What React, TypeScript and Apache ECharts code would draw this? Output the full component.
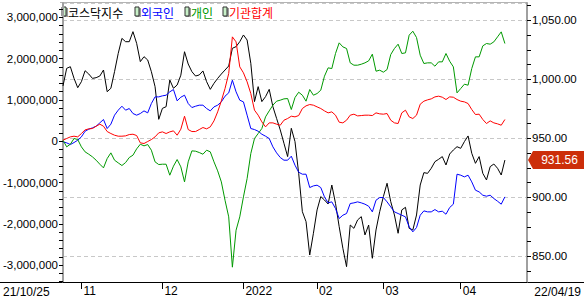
import React, { useEffect, useRef } from 'react';
import * as echarts from 'echarts';

// ---------- data ----------
const HOLIDAYS = ['2021-12-31', '2022-01-31', '2022-02-01', '2022-02-02', '2022-03-01', '2022-03-09'];
const START_DATE = '2021-10-25';
const END_DATE = '2022-04-19';

function tradingDays(start: string, end: string): string[] {
  const out: string[] = [];
  const d = new Date(start + 'T00:00:00Z');
  const e = new Date(end + 'T00:00:00Z');
  while (d <= e) {
    const wd = d.getUTCDay();
    const s = d.toISOString().slice(0, 10);
    if (wd !== 0 && wd !== 6 && HOLIDAYS.indexOf(s) < 0) out.push(s);
    d.setUTCDate(d.getUTCDate() + 1);
  }
  return out;
}

const DATES = tradingDays(START_DATE, END_DATE);
const PAD_CATEGORIES = ['pad1', 'pad2', 'pad3', 'pad4', 'pad5', 'pad6'];
const CATEGORIES = [...DATES, ...PAD_CATEGORIES];

const MONTH_LABELS: Record<string, string> = {
  '2021-11-01': '11',
  '2021-12-01': '12',
  '2022-01-03': '2022',
  '2022-02-03': '02',
  '2022-03-02': '03',
  '2022-04-01': '04',
};
const START_LABEL = '21/10/25';
const END_LABEL = '22/04/19';

const KOSDAQ = [994.4, 1009.3, 1010.7, 1000.8, 992.9, 998.0, 1007.3, 1004.5, 1000.8, 1001.4,
  1002.8, 1007.9, 989.5, 992.4, 1006.5, 1022.0, 1034.7, 1031.9, 1031.9, 1040.4,
  1030.5, 1015.0, 1019.2, 1016.4, 1006.5, 993.8, 966.1, 975.4, 976.8, 999.4,
  992.4, 995.2, 1003.5, 1023.4, 1013.0, 1006.5, 1002.8, 1003.7, 1007.1, 998.0,
  991.5, 996.6, 1000.8, 1004.5, 1007.9, 1011.3, 1026.3, 1027.7, 1031.9, 1037.6,
  1033.3, 1013.6, 981.1, 993.8, 981.1, 985.3, 991.5, 976.8, 966.9, 957.1,
  945.8, 934.5, 958.5, 947.2, 920.3, 887.8, 879.4, 851.1, 869.5, 889.3,
  900.6, 897.7, 894.3, 910.4, 894.9, 875.1, 856.8, 841.2, 876.5, 873.7,
  880.8, 883.6, 868.1, 876.5, 848.3, 872.3, 887.8, 900.6, 911.9, 896.3,
  885.0, 869.5, 889.3, 891.5, 873.7, 872.3, 885.0, 910.4, 920.9, 920.3,
  924.6, 930.2, 932.2, 934.5, 927.4, 936.7, 940.1, 942.9, 941.5, 947.2,
  952.0, 937.3, 928.8, 934.5, 920.3, 914.7, 926.0, 928.2, 924.6, 918.9,
  931.56];

const FOREIGN = [-16000, -40000, -81000, -32000, 24000, 105000, 242000, 291000, 323000, 363000,
  444000, 525000, 307000, 412000, 630000, 751000, 847000, 751000, 791000, 670000,
  630000, 670000, 734000, 686000, 912000, 1073000, 1073000, 1098000, 1114000, 1195000,
  1251000, 977000, 1065000, 1114000, 912000, 815000, 847000, 872000, 872000, 791000,
  734000, 831000, 872000, 952000, 1090000, 1170000, 1477000, 1195000, 993000, 952000,
  630000, 307000, 282000, 242000, 169000, 121000, 65000, -137000, -282000, -395000,
  -460000, -460000, -363000, -581000, -751000, -799000, -799000, -1122000, -1082000, -1065000,
  -1122000, -1348000, -1493000, -1469000, -1630000, -1872000, -1792000, -1751000, -1509000, -1493000,
  -1469000, -1493000, -1525000, -1574000, -1711000, -1429000, -1364000, -1364000, -1469000, -1590000,
  -1711000, -1751000, -1792000, -1832000, -2074000, -2195000, -2090000, -1792000, -1687000, -1711000,
  -1711000, -1655000, -1711000, -1695000, -1768000, -1606000, -1525000, -799000, -823000, -864000,
  -823000, -985000, -1186000, -1227000, -1308000, -1332000, -1308000, -1388000, -1453000, -1525000,
  -1348000];

const INDIVIDUAL = [24000, -137000, -73000, 65000, 40000, -137000, -258000, -315000, -379000, -460000,
  -557000, -646000, -420000, -282000, -460000, -525000, -589000, -517000, -395000, -339000,
  -186000, -73000, -113000, -81000, -218000, -500000, -565000, -557000, -557000, -823000,
  -605000, -444000, -621000, -985000, -500000, -234000, -242000, -274000, -315000, -218000,
  -258000, -500000, -718000, -985000, -1429000, -1832000, -3050000, -2155000, -1832000, -1348000,
  -904000, -299000, 65000, 186000, 307000, 589000, 734000, 872000, 969000, 993000,
  1025000, 1033000, 767000, 1057000, 1186000, 1114000, 969000, 1251000, 1114000, 1154000,
  1235000, 1574000, 1776000, 1759000, 2123000, 2381000, 2284000, 2244000, 1897000, 1840000,
  1840000, 1864000, 1897000, 1945000, 2107000, 1695000, 1719000, 1671000, 1735000, 2098000,
  2244000, 2349000, 2123000, 2139000, 2567000, 2663000, 2510000, 2082000, 1881000, 1897000,
  1897000, 1816000, 1921000, 1921000, 2123000, 1937000, 1800000, 1170000, 1275000, 1380000,
  1356000, 1759000, 2042000, 2042000, 2308000, 2365000, 2349000, 2405000, 2526000, 2647000,
  2365000];

const INSTITUTION = [24000, 65000, 105000, 121000, 105000, 186000, 274000, 299000, 307000, 363000,
  412000, 363000, 234000, 186000, 145000, 121000, 121000, 129000, 161000, 169000,
  137000, -40000, -56000, -8000, 40000, 105000, 202000, 226000, 186000, 226000,
  250000, 145000, 291000, 605000, 282000, 234000, 234000, 282000, 331000, 299000,
  347000, 492000, 710000, 977000, 1275000, 1638000, 2526000, 2405000, 1800000, 1655000,
  1437000, 1154000, 751000, 630000, 468000, 347000, 444000, 444000, 412000, 387000,
  508000, 549000, 605000, 589000, 621000, 791000, 856000, 888000, 872000, 831000,
  791000, 734000, 686000, 710000, 630000, 460000, 444000, 508000, 630000, 654000,
  613000, 621000, 630000, 630000, 621000, 686000, 662000, 654000, 670000, 508000,
  444000, 428000, 686000, 751000, 589000, 549000, 630000, 896000, 969000, 1001000,
  1025000, 1073000, 1090000, 1065000, 1009000, 1073000, 1065000, 1009000, 969000, 952000,
  912000, 767000, 646000, 654000, 525000, 428000, 492000, 444000, 420000, 387000,
  525000];

const LEFT_LABELS = [-3000000, -2000000, -1000000, 0, 1000000, 2000000, 3000000];
const LEFT_TICKS = [-3400000, -3200000, -3000000, -2800000, -2600000, -2400000, -2200000, -2000000,
  -1800000, -1600000, -1400000, -1200000, -1000000, -800000, -600000, -400000, -200000, 0,
  200000, 400000, 600000, 800000, 1000000, 1200000, 1400000, 1600000, 1800000, 2000000,
  2200000, 2400000, 2600000, 2800000, 3000000, 3200000];
const RIGHT_LABELS = [850, 900, 950, 1000, 1050];
const RIGHT_TICKS = [837.5, 850, 862.5, 875, 887.5, 900, 912.5, 925, 937.5, 950, 962.5, 975,
  987.5, 1000, 1012.5, 1025, 1037.5, 1050, 1062.5];

const SERIES_DEF = [
  { name: '코스닥지수', data: KOSDAQ, color: '#000000', axis: 1 },
  { name: '외국인', data: FOREIGN, color: '#0000ff', axis: 0 },
  { name: '개인', data: INDIVIDUAL, color: '#009900', axis: 0 },
  { name: '기관합계', data: INSTITUTION, color: '#ff0000', axis: 0 },
];

// ---------- layout / style ----------
const W = 584;
const H = 299;
const GRID = { left: 60, right: 57, top: 3, bottom: 17 };
const NUM_FONT = '"Liberation Sans", Arial, sans-serif';
const KR_FONT = '"Noto Sans CJK KR", sans-serif';
const LEGEND_X = [62, 135, 185, 223];

function fmtInt(v: number) {
  return Math.round(v).toLocaleString('en-US');
}
function fmt2(v: number) {
  return v.toLocaleString('en-US', { minimumFractionDigits: 2, maximumFractionDigits: 2 });
}

export default function App() {
  const ref = useRef<HTMLDivElement>(null);

  useEffect(() => {
    document.body.style.margin = '0';
    if (!ref.current) return;
    const chart = echarts.init(ref.current, undefined, { renderer: 'svg' });

    const isMonth = (_i: number, v: string) => Object.prototype.hasOwnProperty.call(MONTH_LABELS, v);

    chart.setOption({
      animation: false,
      backgroundColor: '#ffffff',
      grid: { ...GRID, containLabel: false },
      xAxis: {
        type: 'category',
        data: CATEGORIES,
        boundaryGap: false,
        axisLine: { onZero: false, lineStyle: { color: '#000', width: 1 } },
        axisTick: { show: true, length: 7, interval: isMonth, lineStyle: { color: '#000' } },
        axisLabel: {
          interval: isMonth,
          formatter: (v: string) => MONTH_LABELS[v] ?? '',
          align: 'left',
          margin: 3,
          padding: [0, 0, 0, 2],
          color: '#000',
          fontSize: 12,
          fontFamily: NUM_FONT,
        },
        splitLine: { show: false },
      },
      yAxis: [
        {
          type: 'value',
          position: 'left',
          min: -3409000,
          max: 3346000,
          axisLine: { show: true, lineStyle: { color: '#a0a0a0', width: 2 } },
          axisTick: { show: true, length: 4, customValues: LEFT_TICKS, lineStyle: { color: '#000' } },
          axisLabel: {
            customValues: LEFT_LABELS,
            formatter: (v: number) => fmtInt(v),
            margin: 5,
            color: '#000',
            fontSize: 11.5,
            fontFamily: NUM_FONT,
          },
          splitLine: { show: false },
        },
        {
          type: 'value',
          position: 'right',
          min: 828.2,
          max: 1064.7,
          axisLine: { show: true, lineStyle: { color: '#a0a0a0', width: 2 } },
          axisTick: { show: true, length: 4, customValues: RIGHT_TICKS, lineStyle: { color: '#000' } },
          axisLabel: {
            customValues: RIGHT_LABELS,
            formatter: (v: number) => fmt2(v),
            margin: 5,
            color: '#000',
            fontSize: 11.5,
            fontFamily: NUM_FONT,
          },
          splitLine: { show: false },
        },
        {
          type: 'value',
          position: 'right',
          min: 828.2,
          max: 1064.7,
          minInterval: 50,
          maxInterval: 50,
          axisLine: { show: false },
          axisTick: { show: false },
          axisLabel: { show: false },
          splitLine: { show: true, lineStyle: { color: '#c8c8c8', width: 1, type: [4, 3] } },
        },
      ],
      series: SERIES_DEF.map((s) => ({
        name: s.name,
        type: 'line',
        yAxisIndex: s.axis,
        data: s.data,
        showSymbol: false,
        symbol: 'none',
        lineStyle: { color: s.color, width: 1 },
        itemStyle: { color: s.color },
        emphasis: { disabled: true },
      })),
    });

    const last = KOSDAQ[KOSDAQ.length - 1];
    const py = chart.convertToPixel({ yAxisIndex: 1 }, last) as number;
    const axisX = W - GRID.right;
    const plotBottom = H - GRID.bottom;

    const legendEls: any[] = [];
    SERIES_DEF.forEach((s, k) => {
      const x = LEGEND_X[k];
      legendEls.push(
        { type: 'rect', shape: { x: x + 1, y: 8, width: 5, height: 9 }, style: { fill: '#9a9a9a' }, silent: true },
        { type: 'rect', shape: { x: x, y: 7, width: 4, height: 9 }, style: { fill: '#c8f0c8', stroke: '#303030', lineWidth: 1 }, silent: true },
        {
          type: 'text', x: x + 6, y: 12,
          style: { text: s.name, fill: s.color, font: `12px ${KR_FONT}`, textAlign: 'left', textVerticalAlign: 'middle', align: 'left', verticalAlign: 'middle' },
          silent: true,
        },
      );
    });

    chart.setOption({
      graphic: [
        { type: 'line', shape: { x1: GRID.left, y1: 2.5, x2: axisX, y2: 2.5 }, style: { stroke: '#b4b4b4', lineWidth: 1 }, silent: true },
        { type: 'line', shape: { x1: 0, y1: plotBottom + 0.5, x2: W, y2: plotBottom + 0.5 }, style: { stroke: '#000', lineWidth: 1 }, silent: true },
        ...legendEls,
        {
          type: 'text', x: 3, y: 292,
          style: { text: START_LABEL, fill: '#000', font: `12px ${NUM_FONT}`, textAlign: 'left', textVerticalAlign: 'middle', align: 'left', verticalAlign: 'middle' },
          silent: true,
        },
        {
          type: 'text', x: W - 3, y: 292,
          style: { text: END_LABEL, fill: '#000', font: `12px ${NUM_FONT}`, textAlign: 'right', textVerticalAlign: 'middle', align: 'right', verticalAlign: 'middle' },
          silent: true,
        },
        {
          type: 'polygon',
          shape: { points: [[axisX + 1, py], [axisX + 6, py - 9], [W, py - 9], [W, py + 9], [axisX + 6, py + 9]] },
          style: { fill: '#cc2e0a' },
          silent: true,
        },
        {
          type: 'text', x: (axisX + 6 + W) / 2 + 1, y: py,
          style: { text: fmt2(last), fill: '#ffffff', font: `12px ${NUM_FONT}`, textAlign: 'center', textVerticalAlign: 'middle', align: 'center', verticalAlign: 'middle' },
          silent: true,
        },
      ],
    });

    return () => chart.dispose();
  }, []);

  return <div ref={ref} style={{ width: W, height: H }} />;
}
